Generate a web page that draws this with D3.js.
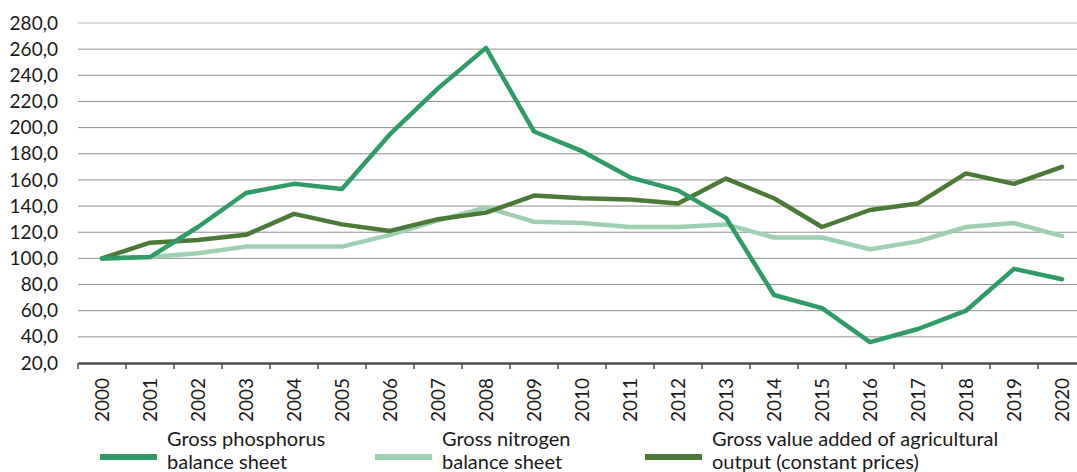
<!DOCTYPE html>
<html>
<head>
<meta charset="utf-8">
<script src="https://cdn.jsdelivr.net/npm/d3@7"></script>
<style>
  body { margin: 0; background: #fff; }
  svg { display: block; font-family: Lato, "Noto Sans", sans-serif; }
</style>
</head>
<body>
<div id="chart"></div>
<script>
'use strict';

var years = ['2000', '2001', '2002', '2003', '2004', '2005', '2006', '2007', '2008', '2009', '2010',
             '2011', '2012', '2013', '2014', '2015', '2016', '2017', '2018', '2019', '2020'];
var phosphorus = [100, 101, 124, 150, 157, 153, 195, 230, 261, 197, 182, 162, 152, 131, 72, 62, 36, 46, 60, 92, 84];
var nitrogen = [100, 101, 104, 109, 109, 109, 118, 129, 139, 128, 127, 124, 124, 126, 116, 116, 107, 113, 124, 127, 117];
var gva = [100, 112, 114, 118, 134, 126, 121, 130, 135, 148, 146, 145, 142, 161, 146, 124, 137, 142, 165, 157, 170];
var yTicks = [20, 40, 60, 80, 100, 120, 140, 160, 180, 200, 220, 240, 260, 280];

var series = [
    { name: ['Gross phosphorus', 'balance sheet'], values: phosphorus, color: '#2f9c67' },
    { name: ['Gross nitrogen', 'balance sheet'], values: nitrogen, color: '#9dcfb1' },
    { name: ['Gross value added of agricultural', 'output (constant prices)'], values: gva, color: '#4b7a37' }
];

var width = 1077;
var height = 472;

var svg = d3.select('#chart').append('svg')
    .attr('width', width)
    .attr('height', height);

var x = d3.scaleBand().domain(years).range([78, 1086]);
var y = d3.scaleLinear().domain([20, 280]).range([363, 23]);

// gridlines
svg.append('g')
    .selectAll('line')
    .data(yTicks.slice(1))
    .enter().append('line')
    .attr('x1', 78)
    .attr('x2', width)
    .attr('y1', function(d) { return y(d); })
    .attr('y2', function(d) { return y(d); })
    .style('stroke', function(d) { return d === 280 ? '#bdbdbd' : '#8f8f8f'; })
    .style('stroke-width', 1);

// y labels
var yAxis = svg.append('g')
    .attr('transform', 'translate(78,0)')
    .call(d3.axisLeft(y).tickValues(yTicks).tickSize(0).tickPadding(20)
        .tickFormat(function(d) { return d3.format('.1f')(d).replace('.', ','); }));
yAxis.select('.domain').remove();
yAxis.selectAll('text')
    .style('font-size', '19px')
    .style('font-family', 'Lato, "Noto Sans", sans-serif')
    .style('fill', '#1a1a1a');

// x axis
var xAxis = svg.append('g')
    .attr('transform', 'translate(0,363)')
    .call(d3.axisBottom(x).tickSize(0));
xAxis.select('.domain')
    .style('stroke', '#4d4d4d')
    .style('stroke-width', 2.5);
xAxis.selectAll('text')
    .attr('transform', 'rotate(-90)')
    .attr('x', -15)
    .attr('y', 0)
    .attr('dy', '0.35em')
    .style('text-anchor', 'end')
    .style('font-size', '19px')
    .style('font-family', 'Lato, "Noto Sans", sans-serif')
    .style('fill', '#1a1a1a');

svg.append('g')
    .selectAll('line')
    .data(d3.range(years.length + 1))
    .enter().append('line')
    .attr('x1', function(i) { return 78 + i * x.step(); })
    .attr('x2', function(i) { return 78 + i * x.step(); })
    .attr('y1', 363)
    .attr('y2', 369)
    .style('stroke', '#4d4d4d')
    .style('stroke-width', 1.5);

var line = d3.line()
    .x(function(d, i) { return x(years[i]) + x.bandwidth() / 2; })
    .y(function(d) { return y(d); });

svg.append('g')
    .selectAll('path')
    .data([series[1], series[2], series[0]])
    .enter().append('path')
    .attr('d', function(s) { return line(s.values); })
    .style('fill', 'none')
    .style('stroke', function(s) { return s.color; })
    .style('stroke-width', 4.5)
    .style('stroke-linejoin', 'round')
    .style('stroke-linecap', 'round');

// legend
var legendX = [100, 375, 645];
var legend = svg.append('g')
    .selectAll('g')
    .data(series)
    .enter().append('g')
    .attr('transform', function(d, i) { return 'translate(' + legendX[i] + ',0)'; });

legend.append('line')
    .attr('x1', 0)
    .attr('x2', 57)
    .attr('y1', 457)
    .attr('y2', 457)
    .style('stroke', function(d) { return d.color; })
    .style('stroke-width', 6);

legend.append('text')
    .attr('x', 67)
    .attr('y', 446)
    .style('font-size', '20px')
    .style('fill', '#1a1a1a')
    .selectAll('tspan')
    .data(function(d) { return d.name; })
    .enter().append('tspan')
    .attr('x', 67)
    .attr('dy', function(d, i) { return i === 0 ? 0 : 23; })
    .text(function(d) { return d; });
</script>
</body>
</html>
